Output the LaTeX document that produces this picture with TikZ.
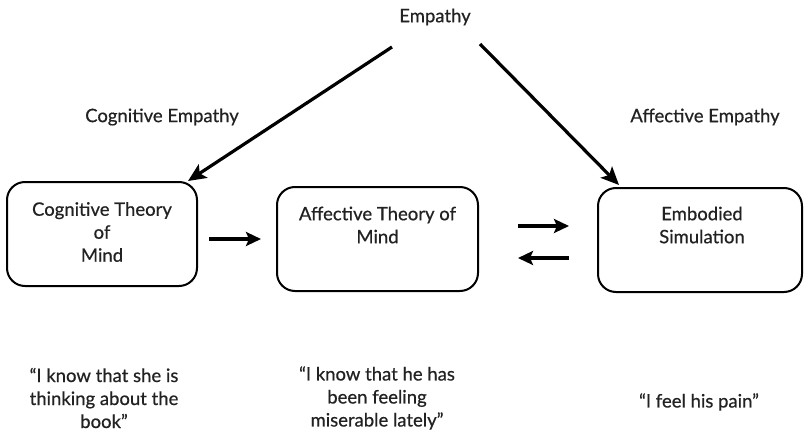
\documentclass[tikz,border=0pt]{standalone}
\usepackage{fontspec}
\setmainfont{Lato}[FakeBold=0.6]
\usetikzlibrary{arrows.meta,calc}
\definecolor{txt}{HTML}{222222}
\begin{document}
\begin{tikzpicture}[x=1pt,y=-1pt,
  every node/.style={font=\fontsize{18.5}{23}\selectfont, text=txt},
  box/.style={draw, line width=2pt, rounded corners=18pt, inner sep=0pt},
  lbl/.style={align=center, inner sep=0pt},
  arr/.style={line width=3.2pt, -{Stealth[length=18pt,width=16pt,inset=4pt]}},
  sarr/.style={line width=3.4pt, -{Stealth[length=15pt,width=14pt,inset=3pt]}}]
\useasboundingbox (0,0) rectangle (804,431);
% labels
\node[lbl] (emp) at (435,17) {Empathy};
\node[lbl] (cog) at (162,117) {Cognitive Empathy};
\node[lbl] (aff) at (705,117) {Affective Empathy};
% boxes
\node[box, minimum width=190pt, minimum height=104pt] (b1) at (102,234) {};
\node[box, minimum width=201pt, minimum height=104pt] (b2) at (377.5,239) {};
\node[box, minimum width=204pt, minimum height=104pt] (b3) at (700,240) {};
\node[lbl] (t1) at (102,232) {Cognitive Theory\\of\\Mind};
\node[lbl] (t2) at (377.5,225) {Affective Theory of\\Mind};
\node[lbl] (t3) at (702,225) {Embodied\\Simulation};
% quotes
\node[lbl] (q1) at (104,398) {“I know that she is\\thinking about the\\book”};
\node[lbl] (q2) at (377,398) {“I know that he has\\been feeling\\miserable lately”};
\node[lbl] (q3) at (699,402) {“I feel his pain”};
% connectors
\coordinate (s1) at (392,47);
\coordinate (s2) at (480,44);
\draw[arr] (s1) -- ($(b1.north east)+(-10,0)$);
\draw[arr] (s2) -- ($(b3.north west)+(22,-2)$);
\draw[sarr] ($(b1.east)+(11,5)$) -- ($(b2.west)+(-15,0)$);
\draw[sarr] ($(b2.east)+(39,-13)$) -- ($(b3.west)+(-28,-14)$);
\draw[sarr] ($(b3.west)+(-28,18)$) -- ($(b2.east)+(39,19)$);
\end{tikzpicture}
\end{document}
